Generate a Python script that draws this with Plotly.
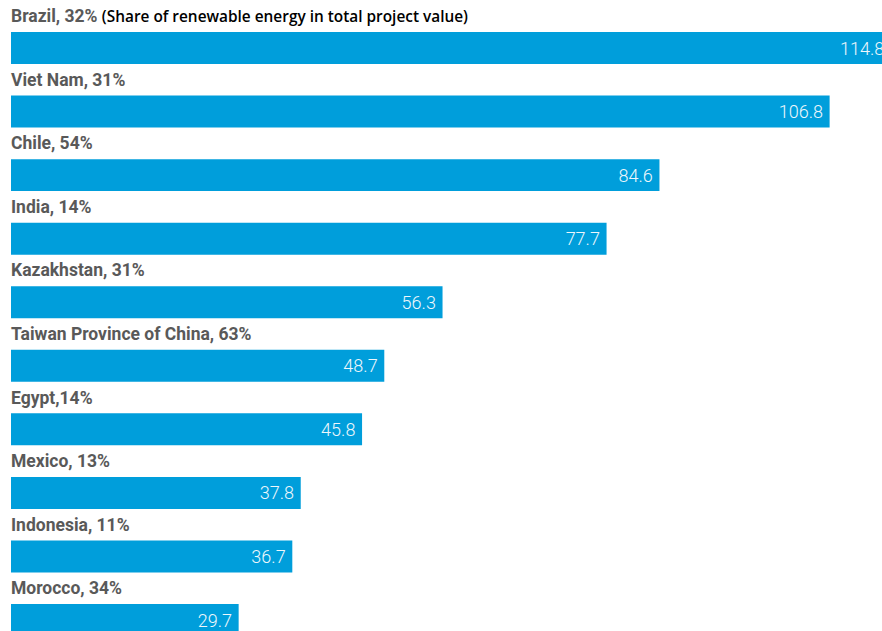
import plotly.graph_objects as go

countries = ["Brazil", "Viet Nam", "Chile", "India", "Kazakhstan",
             "Taiwan Province of China", "Egypt", "Mexico", "Indonesia", "Morocco"]
shares = ["32%", "31%", "54%", "14%", "31%", "63%", "14%", "13%", "11%", "34%"]
label_sep = [", ", ", ", ", ", ", ", ", ", ", ", ",", ", ", ", ", ", "]
values = [114.8, 106.8, 84.6, 77.7, 56.3, 48.7, 45.8, 37.8, 36.7, 29.7]
note = "(Share of renewable energy in total project value)"

idx = list(range(len(countries)))

fig = go.Figure()
fig.add_trace(go.Bar(
    x=values, y=idx, orientation="h",
    marker=dict(color="#009EDB", line=dict(width=0)),
    width=0.503,
    text=[f"{v:.1f}\u2009" for v in values],
    textposition="inside", insidetextanchor="end",
    textfont=dict(family="Roboto", size=18, color="#EEF7FC", weight=300),
    textangle=0,
    hoverinfo="skip",
))

for i, (c, s, sep) in enumerate(zip(countries, shares, label_sep)):
    txt = f"<b>{c}{sep}{s}</b>"
    if i == 0:
        txt += (" <span style='font-family:\"Open Sans\";font-weight:600;color:#000000;font-size:15.4px'>"
                + note + "</span>")
    fig.add_annotation(
        x=0, y=i - 0.5, xref="x", yref="y",
        text=txt, showarrow=False,
        xanchor="left", yanchor="middle",
        borderpad=0, xshift=-1,
        font=dict(family="Roboto", size=17.5, color="#595959"),
    )

px_per_unit = 7.665
left_px = 11
pitch = 63.56
first_center = 48
fig.update_layout(
    width=882, height=631,
    margin=dict(l=0, r=0, t=0, b=0),
    paper_bgcolor="white", plot_bgcolor="white",
    showlegend=False,
    uniformtext=dict(minsize=8, mode="show"),
    xaxis=dict(range=[-left_px / px_per_unit, (882 - left_px) / px_per_unit],
               visible=False, fixedrange=True),
    yaxis=dict(range=[(631 - first_center) / pitch, -first_center / pitch],
               visible=False, fixedrange=True),
)

fig.write_html("out.html",
               config={"displayModeBar": False},
               post_script="document.body.style.margin='0';document.body.style.overflow='hidden';")
